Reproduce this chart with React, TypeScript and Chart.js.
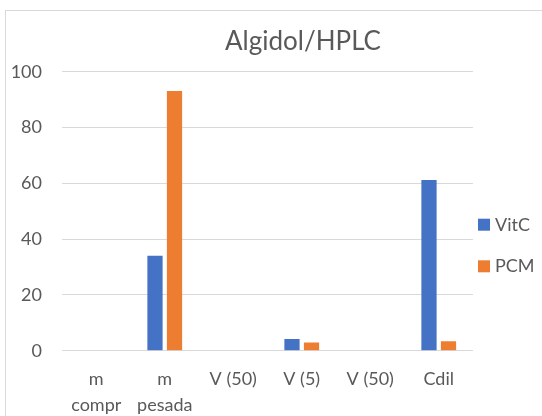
import React, { useEffect, useRef } from "react";
import { Chart, registerables } from "chart.js";

Chart.register(...registerables);

// Category labels (two-line ones are wrapped)
const categories: (string | string[])[] = [
  ["m", "compr"],
  ["m", "pesada"],
  "V (50)",
  "V (5)",
  "V (50)",
  "Cdil",
];

// Series values
const vitC: (number | null)[] = [null, 34, null, 4.2, null, 61.2];
const pcm: (number | null)[] = [null, 93.1, null, 2.9, null, 3.4];

const seriesNames = ["VitC", "PCM"];
const seriesColors = ["#4472C4", "#ED7D31"];

// Value axis
const yMin = 0;
const yMax = 100;
const yStep = 20;

const TEXT = "#595959";
const GRID = "#D9D9D9";
const FONT = "Lato";

// Legend drawn in the space reserved at the right of the plot area
const sideLegend = {
  id: "sideLegend",
  afterDraw(chart: any) {
    const { ctx, chartArea } = chart;
    const x0 = chartArea.right + 5;
    const firstY = chartArea.top + 153;
    const gap = 41.6;
    const box = 12;
    ctx.save();
    ctx.font = `18px ${FONT}`;
    ctx.textBaseline = "middle";
    ctx.textAlign = "left";
    chart.data.datasets.forEach((ds: any, i: number) => {
      const cy = firstY + i * gap;
      ctx.fillStyle = ds.backgroundColor;
      ctx.fillRect(x0, cy - box / 2, box, box);
      ctx.fillStyle = TEXT;
      ctx.fillText(ds.label, x0 + 17, cy);
    });
    ctx.restore();
  },
};

export default function App() {
  const canvasRef = useRef<HTMLCanvasElement | null>(null);

  useEffect(() => {
    if (!canvasRef.current) return;
    const chart = new Chart(canvasRef.current, {
      type: "bar",
      data: {
        labels: categories,
        datasets: [
          { label: seriesNames[0], data: vitC, backgroundColor: seriesColors[0] },
          { label: seriesNames[1], data: pcm, backgroundColor: seriesColors[1] },
        ],
      },
      options: {
        responsive: false,
        animation: false,
        devicePixelRatio: 1,
        layout: { padding: 0 },
        datasets: {
          bar: { categoryPercentage: 0.57, barPercentage: 0.78 },
        },
        plugins: {
          legend: { display: false },
          tooltip: { enabled: false },
          title: {
            display: true,
            text: "Algidol/HPLC",
            color: TEXT,
            font: { family: FONT, size: 26, weight: "normal", lineHeight: 1.2 },
            padding: { top: 26, bottom: 14.5 },
          },
        },
        scales: {
          x: {
            grid: { display: false },
            border: { display: false },
            ticks: {
              color: TEXT,
              font: { family: FONT, size: 18, lineHeight: 26 / 18 },
              padding: 7,
              maxRotation: 0,
              autoSkip: false,
            },
            afterFit(scale: any) {
              scale.height = 65.3;
            },
          },
          y: {
            min: yMin,
            max: yMax,
            grid: { color: GRID, lineWidth: 1, drawTicks: false },
            border: { display: false },
            ticks: {
              stepSize: yStep,
              color: TEXT,
              font: { family: FONT, size: 18 },
              padding: 20,
            },
            afterFit(scale: any) {
              scale.width = 62;
            },
          },
          // empty right-hand strip that holds the legend
          legendSpace: {
            type: "linear",
            position: "right",
            display: true,
            grid: { display: false },
            border: { display: false },
            ticks: { display: false },
            afterFit(scale: any) {
              scale.width = 133;
            },
          },
        },
      },
      plugins: [sideLegend],
    });
    return () => chart.destroy();
  }, []);

  return (
    <div
      style={{
        position: "fixed",
        left: 0,
        top: 0,
        width: 542,
        height: 416,
        overflow: "hidden",
        background: "#ffffff",
      }}
    >
      <div
        style={{
          position: "absolute",
          left: 5,
          top: 10,
          width: 700,
          height: 500,
          border: `1px solid ${GRID}`,
        }}
      />
      <canvas
        ref={canvasRef}
        width={606}
        height={416}
        style={{ position: "absolute", left: 0, top: 0 }}
      />
    </div>
  );
}
